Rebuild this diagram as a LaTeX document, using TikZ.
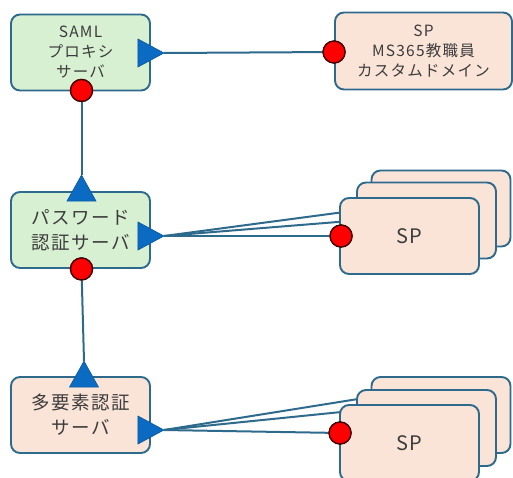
\documentclass[tikz,border=0pt]{standalone}
\usepackage{fontspec}
\newfontfamily\jp[LetterSpace=8]{Noto Sans CJK JP}
\usetikzlibrary{calc,backgrounds}
\definecolor{edge}{HTML}{2E6A8C}
\definecolor{gfill}{HTML}{D8F0D2}
\definecolor{pfill}{HTML}{FAE4D8}
\definecolor{trifill}{HTML}{0B6BC2}
\definecolor{txt}{HTML}{3C3C3C}
\begin{document}
\begin{tikzpicture}[x=1pt,y=-1pt,
  box/.style={draw=edge, line width=1.9pt, rounded corners=9pt, minimum width=139pt, minimum height=76pt, align=center, text=txt, inner sep=0pt},
  gbox/.style={box, fill=gfill},
  pbox/.style={box, fill=pfill},
  smalltxt/.style={font=\jp\fontsize{15.5}{20}\selectfont},
  bigtxt/.style={font=\jp\fontsize{18.5}{25}\selectfont},
  sptxt/.style={font=\jp\fontsize{20}{25}\selectfont},
  conn/.style={draw=edge, line width=2pt},
  dot/.style={circle, fill=red, draw=black!75!red, line width=1.3pt, minimum size=22pt, inner sep=0pt},
  arrowtri/.style={fill=trifill, draw=trifill!80!black, line width=0.6pt, line join=miter}
]
\useasboundingbox (0,0) rectangle (513,477);

% boxes
\node[gbox, smalltxt] (saml) at (80.5,52.5) {SAML\\プロキシ\\サーバ};
\node[pbox, smalltxt, minimum width=177pt, minimum height=77pt] (sptop) at (423.5,51) {SP\\MS365教職員\\カスタムドメイン};
\node[gbox, bigtxt] (pwd) at (80.5,230) {パスワード\\認証サーバ};
\node[pbox] (b1) at (441,208.5) {};
\node[pbox] (m1) at (426.5,220.5) {};
\node[pbox, sptxt] (f1) at (409.5,236) {SP};
\node[pbox, bigtxt] (mfa) at (80.5,415) {多要素認証\\サーバ};
\node[pbox] (b2) at (441,415) {};
\node[pbox] (m2) at (426.5,428) {};
\node[pbox, sptxt] (f2) at (409.5,443) {SP};

% connector end points
\coordinate (t1) at ($(saml.east)+(13,0.5)$);
\coordinate (t2) at ($(pwd.east)+(13,6)$);
\coordinate (t3) at ($(mfa.east)+(13,15)$);
\coordinate (a2) at ($(pwd.north)+(1,-16)$);
\coordinate (a3) at ($(mfa.north)+(3.5,-15)$);
\coordinate (m2in) at ($(m2.west)+(0,-17.5)$);
\coordinate (b2in) at ($(b2.west)+(0,-18)$);

% dots
\node[dot] (d1) at ($(saml.south)+(1,-1)$) {};
\node[dot] (d2) at ($(sptop.west)+(0,1)$) {};
\node[dot] (d3) at ($(pwd.south)+(1,0)$) {};
\node[dot] (d4) at ($(f1.west)+(2,0)$) {};
\node[dot] (d5) at ($(f2.west)+(1,-10)$) {};

% connectors behind everything
\begin{pgfonlayer}{background}
\draw[conn] (t1) -- (d2);
\draw[conn] (d1) -- (a2);
\draw[conn] (t2) -- (d4);
\draw[conn] (t2) -- (m1.west);
\draw[conn] (t2) -- (b1.west);
\draw[conn] (d3) -- (a3);
\draw[conn] (t3) -- (d5);
\draw[conn] (t3) -- (m2in);
\draw[conn] (t3) -- (b2in);
\end{pgfonlayer}

% triangles
\filldraw[arrowtri] (t1) -- ++(-26,-14) -- ++(0,28) -- cycle;
\filldraw[arrowtri] (t2) -- ++(-26,-14) -- ++(0,28) -- cycle;
\filldraw[arrowtri] (t3) -- ++(-26,-14) -- ++(0,28) -- cycle;
\filldraw[arrowtri] (a2) -- ++(-14.5,26) -- ++(29,0) -- cycle;
\filldraw[arrowtri] (a3) -- ++(-14.5,26) -- ++(29,0) -- cycle;

% redraw dots above lines
\node[dot] at (d1) {};
\node[dot] at (d2) {};
\node[dot] at (d3) {};
\node[dot] at (d4) {};
\node[dot] at (d5) {};
\end{tikzpicture}
\end{document}
